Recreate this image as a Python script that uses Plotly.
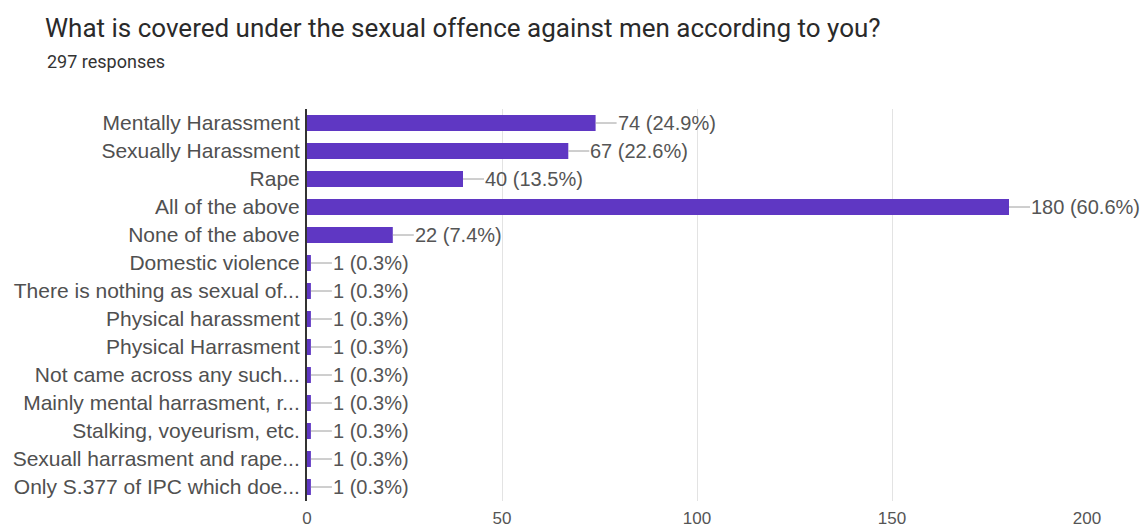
import plotly.graph_objects as go

categories = [
    "Mentally Harassment",
    "Sexually Harassment",
    "Rape",
    "All of the above",
    "None of the above",
    "Domestic violence",
    "There is nothing as sexual of...",
    "Physical harassment",
    "Physical Harrasment",
    "Not came across any such...",
    "Mainly mental harrasment, r...",
    "Stalking, voyeurism, etc.",
    "Sexuall harrasment and rape...",
    "Only S.377 of IPC which doe...",
]
counts = [74, 67, 40, 180, 22, 1, 1, 1, 1, 1, 1, 1, 1, 1]
percents = [24.9, 22.6, 13.5, 60.6, 7.4, 0.3, 0.3, 0.3, 0.3, 0.3, 0.3, 0.3, 0.3, 0.3]
x_ticks = [0, 50, 100, 150, 200]

title_text = "What is covered under the sexual offence against men according to you?"
subtitle_text = "297 responses"

W, H = 1148, 531
L, R, T, B = 307, 61, 109, 30
FONT = "Liberation Sans, Arial, sans-serif"
TFONT = "Roboto, Arial, sans-serif"

fig = go.Figure()
fig.add_trace(go.Bar(
    x=counts,
    y=categories,
    orientation="h",
    marker=dict(color="#5f37c3", line=dict(width=0)),
    width=0.57,
    hoverinfo="x+y",
))

annotations = []
for c, v, p in zip(categories, counts, percents):
    annotations.append(dict(
        x=v, y=c, xref="x", yref="y",
        text=f"{v} ({p}%)",
        showarrow=True, arrowhead=0, arrowwidth=1, arrowcolor="#9e9e9e",
        ax=21, ay=0, axref="pixel", ayref="pixel",
        xanchor="left", yanchor="middle",
        font=dict(family=FONT, size=20, color="#555555"),
        borderpad=0,
    ))

PW = W - L - R
PH = H - T - B
annotations.append(dict(
    x=(45 - L) / PW, y=1 + (T - 61) / PH, xref="paper", yref="paper",
    text=subtitle_text, showarrow=False,
    xanchor="left", yanchor="middle",
    font=dict(family=TFONT, size=18, color="#333333"),
))

fig.update_layout(
    width=W, height=H,
    margin=dict(l=L, r=R, t=T, b=B, autoexpand=False),
    paper_bgcolor="white", plot_bgcolor="white",
    showlegend=False,
    title=dict(
        text=title_text,
        x=45 / W, xanchor="left", xref="container",
        y=1 - 28 / H, yanchor="middle", yref="container",
        font=dict(family=TFONT, size=26, color="#2a2a2a"),
    ),
    xaxis=dict(
        range=[0, 200], tickvals=x_ticks,
        showgrid=True, gridcolor="#e3e3e3", gridwidth=1,
        zeroline=False, showline=False, ticks="",
        ticklabelstandoff=5,
        tickfont=dict(family=FONT, size=17, color="#555555"),
        fixedrange=True,
    ),
    yaxis=dict(
        autorange="reversed", type="category",
        showgrid=False, zeroline=False,
        showline=True, linecolor="#333333", linewidth=2,
        ticks="", ticklabelstandoff=1,
        tickfont=dict(family=FONT, size=21, color="#505050"),
        fixedrange=True,
    ),
    annotations=annotations,
)

fig.write_html("out.html")
